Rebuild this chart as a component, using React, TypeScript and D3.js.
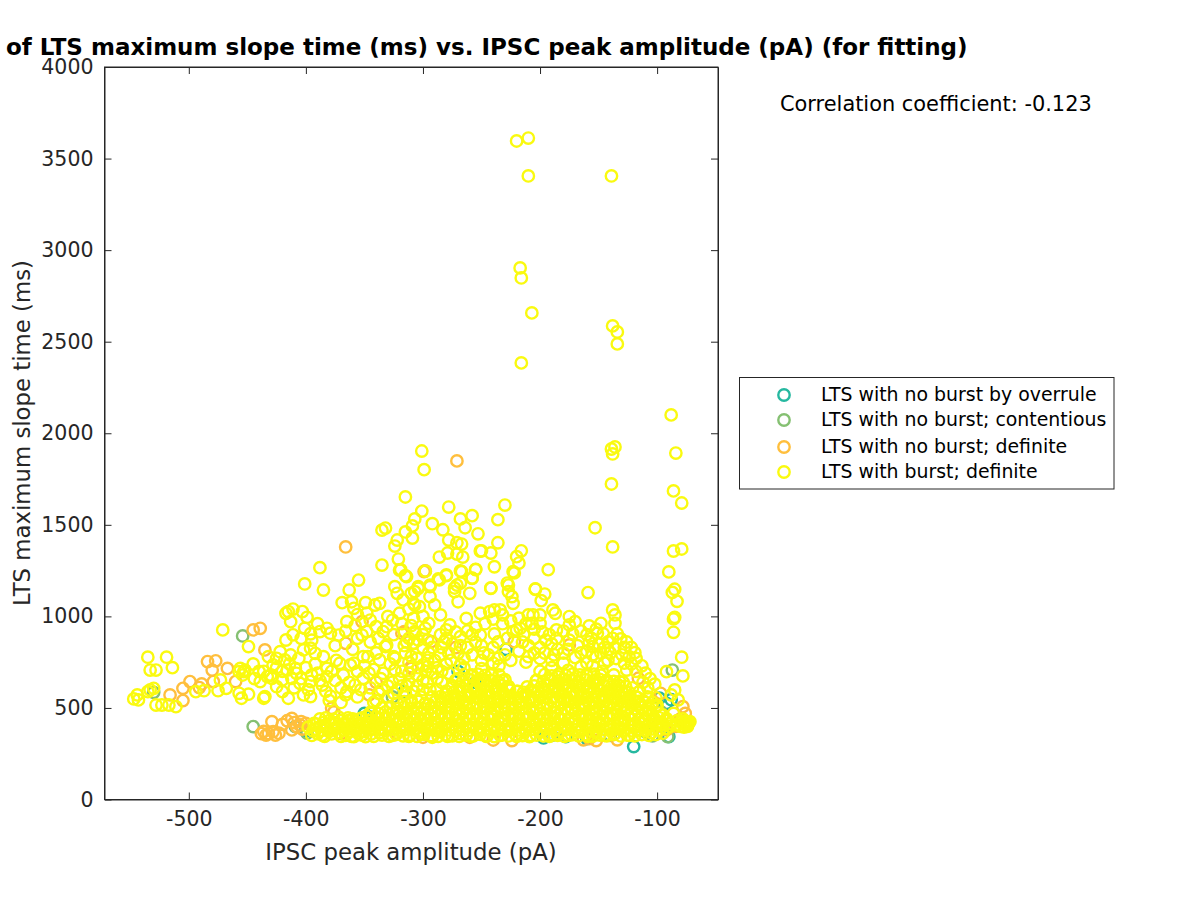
import React, { useRef, useEffect } from 'react';
import * as d3 from 'd3';

type Pt = [number, number];

const legendLabels = [
  'LTS with no burst by overrule',
  'LTS with no burst; contentious',
  'LTS with no burst; definite',
  'LTS with burst; definite'
];
const seriesColors = ['#26b8a0', '#85c072', '#ffbf3d', '#fafa0f'];
const xTicks = [-500, -400, -300, -200, -100];
const yTicks = [0, 500, 1000, 1500, 2000, 2500, 3000, 3500, 4000];
const xDomain: Pt = [-572, -48];
const yDomain: Pt = [0, 4000];

const overrule: Pt[] = [
  [-120, 289], [-229, 820], [-98, 553], [-92, 525], [-90, 343], [-316, 589], [-197, 336], [-178, 343],
  [-160, 333], [-88, 545], [-110, 370], [-350, 470], [-270, 700], [-255, 640], [-400, 375], [-345, 450]
];
const contentious: Pt[] = [
  [-454, 893], [-445, 398], [-409, 398], [-399, 362], [-87, 707], [-91, 343], [-104, 347], [-530, 585],
  [-97, 480], [-190, 350], [-326, 560], [-140, 350]
];
const noBurstDefinite: Pt[] = [
  [-271, 1849], [-366, 1379], [-299, 1245], [-516, 571], [-505, 607], [-505, 540], [-499, 644], [-491, 611],
  [-489, 631], [-484, 753], [-477, 757], [-480, 707], [-479, 644], [-467, 716], [-460, 644], [-445, 926],
  [-439, 935], [-435, 817], [-352, 971], [-366, 853], [-318, 908], [-310, 716], [-324, 707], [-346, 571],
  [-378, 498], [-322, 362], [-434, 352], [-429, 425], [-423, 362], [-412, 443], [-412, 380], [-405, 407],
  [-400, 416], [-408, 398], [-438, 360], [-428, 370], [-298, 1248], [-293, 862], [-310, 726], [-316, 917],
  [-308, 853], [-222, 862], [-175, 844], [-116, 662], [-97, 580], [-78, 507], [-240, 325], [-224, 322],
  [-134, 326], [-152, 322], [-163, 326], [-158, 332], [-76, 470], [-80, 440], [-84, 400], [-92, 380],
  [-100, 400], [-370, 360], [-300, 340], [-260, 340], [-360, 410], [-272, 830], [-340, 640], [-376, 478],
  [-432, 360], [-426, 352], [-420, 410], [-416, 430], [-410, 420], [-403, 385], [-404, 425], [-436, 372]
];

// far from the main cloud
const burstOutliers: Pt[] = [
  [-220, 3596], [-210, 3612], [-210, 3405], [-139, 3405], [-217, 2903], [-216, 2848], [-207, 2657], [-216, 2384],
  [-138, 2586], [-134, 2553], [-134, 2488], [-88, 2100], [-84, 1892], [-86, 1685], [-79, 1619], [-90, 1243],
  [-79, 1368], [-86, 1357], [-139, 1914], [-136, 1925], [-138, 1887], [-139, 1723], [-153, 1484], [-138, 1379],
  [-159, 1130], [-85, 1148], [-87, 1131], [-83, 1082], [-86, 986], [-85, 995], [-86, 913], [-79, 777],
  [-92, 698], [-78, 675], [-85, 598], [-82, 544], [-88, 571]
];
const burstUpper: Pt[] = [
  [-301, 1903], [-299, 1801], [-315, 1652], [-301, 1575], [-278, 1597], [-230, 1608], [-236, 1528], [-268, 1532],
  [-258, 1550], [-264, 1484], [-253, 1451], [-292, 1506], [-283, 1473], [-307, 1532], [-309, 1494], [-315, 1461],
  [-332, 1482], [-335, 1471], [-322, 1417], [-324, 1384], [-309, 1428], [-278, 1417], [-271, 1402], [-267, 1395],
  [-279, 1346], [-271, 1340], [-266, 1324], [-286, 1324], [-251, 1357], [-250, 1358], [-242, 1346], [-236, 1402],
  [-216, 1358], [-220, 1326], [-218, 1291], [-388, 1266], [-335, 1280], [-321, 1313], [-319, 1255], [-298, 1247],
  [-255, 1255], [-268, 1248], [-239, 1271], [-223, 1244], [-222, 1237], [-193, 1255], [-401, 1177], [-385, 1144],
  [-355, 1198], [-363, 1144], [-315, 1222], [-280, 1222], [-258, 1209], [-287, 1204], [-324, 1162], [-294, 1162],
  [-304, 1162], [-268, 1182], [-273, 1155], [-242, 1155], [-228, 1182], [-227, 1135], [-204, 1150], [-196, 1122]
];
const burstLeft: Pt[] = [
  [-535, 777], [-519, 777], [-533, 707], [-528, 707], [-514, 720], [-471, 926], [-449, 835], [-544, 571],
  [-547, 549], [-543, 544], [-535, 589], [-533, 598], [-530, 607], [-528, 516], [-523, 516], [-517, 516],
  [-511, 507], [-494, 589], [-487, 594], [-475, 594], [-468, 607], [-473, 653], [-457, 698], [-453, 698],
  [-454, 680], [-456, 716], [-452, 707], [-457, 580], [-455, 553], [-449, 575], [-435, 562], [-436, 553],
  [-439, 644], [-433, 671], [-429, 662], [-432, 780], [-422, 807], [-425, 771], [-418, 762], [-413, 789],
  [-406, 771], [-402, 817], [-396, 826], [-392, 798], [-385, 780], [-382, 716], [-382, 671], [-386, 625],
  [-379, 565], [-396, 562], [-402, 571], [-415, 553], [-420, 589], [-425, 616], [-420, 653], [-412, 662],
  [-408, 689], [-405, 634], [-396, 644], [-395, 680], [-409, 716], [-416, 707], [-430, 680], [-417, 871],
  [-411, 899], [-401, 935], [-415, 1026], [-417, 1017], [-411, 1040], [-413, 971], [-403, 1026], [-399, 995],
  [-388, 917], [-382, 935], [-379, 908], [-372, 898], [-356, 880], [-352, 898], [-348, 917], [-340, 944],
  [-331, 944], [-365, 971], [-369, 1075], [-361, 1080], [-359, 1044], [-349, 1075], [-337, 1071], [-341, 1062],
  [-348, 1017], [-371, 744], [-359, 744], [-362, 735], [-351, 780], [-347, 780], [-337, 762], [-332, 835],
  [-324, 771], [-334, 689], [-324, 707], [-312, 644], [-351, 662], [-358, 625], [-365, 589], [-366, 571],
  [-322, 1126], [-314, 1217], [-320, 1253], [-307, 1135], [-317, 1090], [-307, 1062], [-308, 990], [-320, 1017],
  [-334, 917], [-331, 844], [-325, 780], [-308, 853], [-307, 917], [-310, 780], [-440, 700], [-425, 720],
  [-445, 740], [-400, 720], [-390, 690], [-375, 650], [-370, 610], [-345, 610], [-338, 580], [-330, 620],
  [-320, 660], [-315, 580], [-305, 620], [-350, 730], [-342, 710], [-360, 820], [-375, 840], [-395, 870],
  [-345, 860], [-318, 960], [-300, 1000], [-312, 1040], [-330, 1000], [-444, 660], [-436, 700], [-428, 735],
  [-420, 700], [-414, 740], [-410, 610], [-404, 660], [-398, 600], [-392, 740], [-388, 650], [-383, 590],
  [-378, 700], [-374, 760], [-368, 680], [-363, 640], [-356, 700], [-353, 600], [-346, 690], [-340, 800],
  [-336, 660], [-328, 740], [-326, 640], [-322, 600], [-318, 700], [-316, 840], [-314, 620], [-312, 880],
  [-305, 680], [-302, 560], [-300, 900], [-298, 700], [-296, 760], [-294, 600], [-330, 560], [-342, 530],
  [-356, 560], [-370, 530], [-380, 540], [-404, 880], [-396, 905], [-390, 960], [-366, 920], [-358, 950],
  [-338, 880], [-325, 900], [-326, 980], [-310, 950], [-345, 980], [-356, 1010]
];
const burstRight: Pt[] = [
  [-138, 1035], [-136, 1008], [-136, 962], [-148, 962], [-158, 948], [-156, 880], [-138, 880], [-131, 877],
  [-119, 802], [-124, 780], [-126, 707], [-132, 644], [-151, 908], [-155, 835], [-142, 817], [-152, 780],
  [-175, 999], [-170, 971], [-175, 953], [-186, 926], [-189, 1035], [-187, 1017], [-200, 1008], [-206, 1008],
  [-210, 1008], [-200, 962], [-207, 962], [-220, 926], [-223, 917], [-217, 935], [-242, 1153], [-227, 1171],
  [-224, 1108], [-223, 1071], [-232, 1008], [-234, 1035], [-239, 1035], [-243, 1026], [-251, 1017], [-263, 989],
  [-277, 953], [-280, 926], [-239, 904], [-251, 898], [-268, 889], [-271, 1171], [-273, 1135], [-270, 1080],
  [-260, 1126], [-267, 1244], [-258, 1208], [-255, 1257], [-280, 1226], [-286, 1199], [-294, 1171], [-304, 1153],
  [-310, 1126], [-294, 1108], [-290, 1062], [-285, 1008], [-308, 1071], [-303, 1053], [-295, 962], [-298, 935],
  [-307, 908], [-204, 1148], [-199, 1086], [-215, 860], [-210, 840], [-205, 880], [-200, 830], [-195, 870],
  [-190, 850], [-185, 820], [-180, 800], [-175, 870], [-168, 840], [-160, 810], [-155, 790], [-150, 850],
  [-145, 830], [-140, 800], [-135, 770], [-130, 790], [-128, 745], [-210, 780], [-200, 770], [-190, 760],
  [-180, 745], [-170, 775], [-160, 745], [-145, 745], [-230, 790], [-225, 760], [-240, 830], [-248, 800],
  [-255, 860], [-262, 830], [-270, 800], [-275, 850], [-285, 790], [-290, 760], [-280, 740], [-265, 770],
  [-250, 760], [-240, 745], [-300, 830], [-295, 800], [-305, 770], [-300, 735], [-315, 800], [-312, 750],
  [-218, 810], [-212, 750], [-205, 800], [-196, 800], [-188, 790], [-176, 820], [-165, 800], [-158, 860],
  [-148, 800], [-142, 760], [-136, 830], [-128, 830], [-122, 740], [-118, 700], [-112, 640], [-108, 610],
  [-236, 770], [-244, 790], [-258, 790], [-268, 840], [-278, 800], [-284, 830], [-288, 720], [-292, 690]
];
const burstMidFill: Pt[] = [
  [-285, 900], [-280, 880], [-272, 915], [-262, 920], [-255, 940], [-247, 960], [-240, 985], [-232, 960],
  [-225, 975], [-218, 990], [-212, 960], [-205, 930], [-198, 915], [-192, 900], [-186, 880], [-180, 920],
  [-172, 905], [-165, 920], [-160, 900], [-152, 930], [-146, 905], [-142, 860], [-134, 905], [-126, 860],
  [-122, 830], [-118, 770], [-113, 730], [-110, 690], [-106, 660], [-102, 630], [-214, 900], [-228, 880],
  [-236, 860], [-250, 840], [-258, 900], [-282, 860], [-292, 830], [-296, 870], [-304, 870], [-314, 860],
  [-340, 540], [-335, 600], [-325, 580], [-318, 620], [-308, 590], [-300, 650], [-296, 640], [-288, 660],
  [-284, 700], [-310, 540], [-300, 600], [-312, 690], [-304, 720], [-296, 725], [-276, 760], [-268, 735]
];
// the solid band along the bottom of the cloud
const burstLowBand: Pt[] = [
  [-393, 416], [-388, 398], [-386, 352], [-380, 430], [-376, 385], [-372, 450], [-368, 410], [-362, 372],
  [-359, 343], [-354, 440], [-350, 395], [-349, 343], [-344, 470], [-340, 420], [-337, 365], [-332, 450],
  [-330, 395], [-326, 350], [-322, 480], [-320, 425], [-316, 380], [-312, 345], [-310, 455], [-306, 410],
  [-305, 500], [-302, 360], [-298, 440], [-296, 385], [-295, 520], [-292, 340], [-290, 480], [-288, 420],
  [-286, 370], [-284, 535], [-281, 450], [-279, 345], [-277, 505], [-275, 395], [-272, 550], [-270, 430],
  [-268, 360], [-266, 480], [-263, 520], [-261, 395], [-259, 345], [-257, 450], [-254, 560], [-252, 375],
  [-250, 420], [-248, 500], [-246, 345], [-243, 535], [-241, 455], [-239, 390], [-236, 580], [-234, 350],
  [-232, 430], [-230, 500], [-227, 375], [-225, 550], [-223, 465], [-220, 345], [-218, 410], [-216, 520],
  [-213, 380], [-211, 450], [-208, 350], [-206, 490], [-204, 410], [-201, 560], [-199, 370], [-197, 440],
  [-194, 520], [-192, 345], [-190, 400], [-187, 475], [-185, 360], [-183, 440], [-180, 545], [-178, 395],
  [-176, 350], [-173, 490], [-171, 425], [-169, 580], [-166, 370], [-164, 455], [-162, 520], [-159, 345],
  [-157, 405], [-154, 480], [-152, 365], [-150, 560], [-147, 435], [-145, 350], [-143, 510], [-140, 395],
  [-138, 465], [-136, 360], [-133, 540], [-131, 430], [-129, 375], [-126, 490], [-124, 350], [-122, 410],
  [-119, 455], [-117, 375], [-114, 520], [-112, 430], [-110, 395], [-107, 480], [-105, 365], [-102, 440],
  [-100, 515], [-97, 410], [-95, 460], [-92, 430], [-89, 400], [-86, 470], [-83, 430], [-80, 400],
  [-78, 440], [-76, 415], [-75, 425], [-77, 395], [-74, 410], [-79, 425], [-75, 420], [-73, 418],
  [-77, 412], [-76, 428], [-74, 400], [-72, 425], [-398, 395], [-390, 360], [-385, 420], [-382, 390],
  [-376, 420], [-372, 365], [-365, 385], [-360, 440], [-355, 360], [-352, 415], [-345, 380], [-342, 345],
  [-338, 440], [-394, 375], [-388, 440], [-370, 345], [-364, 430], [-358, 395], [-348, 455], [-346, 410]
];
// left end of the band, -395 to -340
const burstBandLeft: Pt[] = [
  [-395, 350], [-384, 345], [-378, 358], [-366, 350], [-361, 345], [-352, 352], [-344, 358],
  [-392, 385], [-386, 378], [-380, 372], [-374, 395], [-368, 380], [-362, 392], [-356, 378], [-350, 372], [-343, 392],
  [-391, 412], [-384, 405], [-378, 410], [-372, 402], [-366, 415], [-360, 408], [-354, 402], [-348, 415], [-342, 405],
  [-383, 445], [-376, 438], [-370, 432], [-364, 445], [-358, 430], [-352, 445], [-346, 432], [-340, 450],
  [-345, 475], [-338, 470], [-332, 478], [-326, 470],
  [-335, 500], [-328, 505], [-322, 495], [-316, 505], [-310, 495],
  [-322, 525], [-316, 535], [-310, 525], [-304, 535], [-298, 525]
];
const burstRow350: Pt[] = [
  [-335, 352], [-329, 345], [-323, 355], [-317, 348], [-311, 352], [-305, 345], [-299, 356], [-293, 349], [-287, 345], [-281, 354],
  [-275, 348], [-269, 345], [-263, 352], [-257, 347], [-251, 356], [-245, 349], [-239, 344], [-233, 352], [-227, 347], [-221, 355],
  [-215, 349], [-209, 344], [-203, 352], [-197, 347], [-191, 355], [-185, 350], [-179, 345], [-173, 353], [-167, 348], [-161, 355],
  [-155, 346], [-149, 352], [-143, 348], [-137, 355], [-131, 347], [-125, 352], [-119, 348], [-113, 355], [-107, 350], [-101, 355], [-95, 362]
];
const burstRow380: Pt[] = [
  [-338, 382], [-332, 375], [-326, 384], [-320, 378], [-314, 386], [-308, 380], [-302, 375], [-296, 383], [-290, 378], [-284, 386],
  [-278, 380], [-272, 375], [-266, 384], [-260, 378], [-254, 386], [-248, 380], [-242, 375], [-236, 384], [-230, 378], [-224, 386],
  [-218, 380], [-212, 375], [-206, 383], [-200, 378], [-194, 386], [-188, 380], [-182, 375], [-176, 384], [-170, 378], [-164, 386],
  [-158, 380], [-152, 375], [-146, 384], [-140, 378], [-134, 386], [-128, 380], [-122, 375], [-116, 384], [-110, 378], [-104, 386], [-98, 380], [-92, 388]
];
const burstRow410: Pt[] = [
  [-335, 412], [-329, 405], [-323, 414], [-317, 408], [-311, 416], [-305, 410], [-299, 405], [-293, 414], [-287, 408], [-281, 416],
  [-275, 410], [-269, 405], [-263, 414], [-257, 408], [-251, 416], [-245, 410], [-239, 405], [-233, 414], [-227, 408], [-221, 416],
  [-215, 410], [-209, 405], [-203, 414], [-197, 408], [-191, 416], [-185, 410], [-179, 405], [-173, 414], [-167, 408], [-161, 416],
  [-155, 410], [-149, 405], [-143, 414], [-137, 408], [-131, 416], [-125, 410], [-119, 405], [-113, 414], [-107, 408], [-101, 416], [-95, 410], [-89, 414], [-83, 408]
];
const burstRow440: Pt[] = [
  [-332, 442], [-326, 435], [-320, 444], [-314, 438], [-308, 446], [-302, 440], [-296, 435], [-290, 444], [-284, 438], [-278, 446],
  [-272, 440], [-266, 435], [-260, 444], [-254, 438], [-248, 446], [-242, 440], [-236, 435], [-230, 444], [-224, 438], [-218, 446],
  [-212, 440], [-206, 435], [-200, 444], [-194, 438], [-188, 446], [-182, 440], [-176, 435], [-170, 444], [-164, 438], [-158, 446],
  [-152, 440], [-146, 435], [-140, 444], [-134, 438], [-128, 446], [-122, 440], [-116, 435], [-110, 444], [-104, 438], [-98, 446], [-92, 442]
];
const burstRow470: Pt[] = [
  [-320, 472], [-314, 465], [-308, 474], [-302, 468], [-296, 476], [-290, 470], [-284, 465], [-278, 474], [-272, 468], [-266, 476],
  [-260, 470], [-254, 465], [-248, 474], [-242, 468], [-236, 476], [-230, 470], [-224, 465], [-218, 474], [-212, 468], [-206, 476],
  [-200, 470], [-194, 465], [-188, 474], [-182, 468], [-176, 476], [-170, 470], [-164, 465], [-158, 474], [-152, 468], [-146, 476],
  [-140, 470], [-134, 465], [-128, 474], [-122, 468], [-116, 476], [-110, 470], [-104, 465], [-98, 472]
];
const burstRow500: Pt[] = [
  [-305, 502], [-299, 495], [-293, 504], [-287, 498], [-281, 506], [-275, 500], [-269, 495], [-263, 504], [-257, 498], [-251, 506],
  [-245, 500], [-239, 495], [-233, 504], [-227, 498], [-221, 506], [-215, 500], [-209, 495], [-203, 504], [-197, 498], [-191, 506],
  [-185, 500], [-179, 495], [-173, 504], [-167, 498], [-161, 506], [-155, 500], [-149, 495], [-143, 504], [-137, 498], [-131, 506],
  [-125, 500], [-119, 495], [-113, 504], [-107, 498], [-101, 506]
];
const burstRow530: Pt[] = [
  [-290, 532], [-284, 525], [-278, 534], [-272, 528], [-266, 536], [-260, 530], [-254, 525], [-248, 534], [-242, 528], [-236, 536],
  [-230, 530], [-224, 525], [-218, 534], [-212, 528], [-206, 536], [-200, 530], [-194, 525], [-188, 534], [-182, 528], [-176, 536],
  [-170, 530], [-164, 525], [-158, 534], [-152, 528], [-146, 536], [-140, 530], [-134, 525], [-128, 534], [-122, 528], [-116, 536], [-110, 530]
];
const burstRow560: Pt[] = [
  [-285, 562], [-279, 555], [-273, 564], [-267, 558], [-261, 566], [-255, 560], [-249, 555], [-243, 564], [-237, 558], [-231, 566],
  [-225, 560], [-219, 555], [-213, 564], [-207, 558], [-201, 566], [-195, 560], [-189, 555], [-183, 564], [-177, 558], [-171, 566],
  [-165, 560], [-159, 555], [-153, 564], [-147, 558], [-141, 566], [-135, 560], [-129, 555], [-123, 564], [-117, 558]
];
const burstRow590: Pt[] = [
  [-280, 592], [-274, 585], [-268, 594], [-262, 588], [-256, 596], [-250, 590], [-244, 585], [-238, 594], [-232, 588], [-226, 596],
  [-220, 590], [-214, 585], [-208, 594], [-202, 588], [-196, 596], [-190, 590], [-184, 585], [-178, 594], [-172, 588], [-166, 596],
  [-160, 590], [-154, 585], [-148, 594], [-142, 588], [-136, 596], [-130, 590], [-124, 585]
];
const burstRow620: Pt[] = [
  [-275, 622], [-269, 615], [-263, 624], [-257, 618], [-251, 626], [-245, 620], [-239, 615], [-233, 624], [-227, 618],
  [-205, 620], [-199, 615], [-193, 624], [-187, 618], [-181, 626], [-175, 620], [-169, 615], [-163, 624], [-157, 618],
  [-151, 626], [-145, 620], [-139, 615], [-133, 624], [-127, 618]
];
const burstRow650: Pt[] = [
  [-272, 652], [-266, 645], [-260, 654], [-254, 648], [-248, 656], [-242, 650], [-236, 645], [-230, 654],
  [-203, 650], [-197, 645], [-191, 654], [-185, 648], [-179, 656], [-173, 650], [-167, 645], [-161, 654],
  [-155, 648], [-149, 656], [-143, 650], [-137, 645]
];
const burstRow680: Pt[] = [
  [-265, 682], [-259, 675], [-253, 684], [-247, 678], [-241, 686], [-235, 680],
  [-196, 682], [-190, 675], [-184, 684], [-178, 678], [-172, 686], [-166, 680], [-160, 675], [-154, 684], [-148, 678]
];
// the hump over the band, between -290 and -130
const burstHump: Pt[] = [
  [-292, 560], [-288, 600], [-284, 640], [-281, 575], [-278, 690], [-275, 610], [-273, 545], [-270, 660],
  [-268, 585], [-265, 720], [-263, 625], [-260, 560], [-258, 680], [-255, 600], [-252, 650], [-250, 715],
  [-247, 570], [-245, 625], [-242, 680], [-240, 540], [-237, 610], [-235, 730], [-232, 650], [-229, 570],
  [-227, 610], [-221, 545], [-219, 590], [-213, 570], [-211, 615], [-208, 545],
  [-205, 590], [-203, 650], [-200, 700], [-197, 600], [-195, 555], [-192, 650], [-190, 720], [-187, 600],
  [-184, 670], [-182, 560], [-179, 630], [-176, 705], [-174, 585], [-171, 660], [-168, 620], [-165, 725],
  [-163, 565], [-160, 680], [-158, 610], [-155, 730], [-153, 650], [-150, 600], [-147, 700], [-145, 555],
  [-142, 640], [-140, 590], [-137, 680], [-135, 615], [-132, 570], [-129, 640], [-127, 590], [-124, 545],
  [-121, 610], [-118, 560], [-115, 590], [-112, 540], [-108, 560], [-104, 530], [-101, 555]
];

const series: Pt[][] = [
  overrule,
  contentious,
  noBurstDefinite,
  [
    ...burstOutliers, ...burstUpper, ...burstLeft, ...burstRight, ...burstMidFill, ...burstLowBand, ...burstBandLeft,
    ...burstRow350, ...burstRow380, ...burstRow410, ...burstRow440, ...burstRow470, ...burstRow500,
    ...burstRow530, ...burstRow560, ...burstRow590, ...burstRow620, ...burstRow650, ...burstRow680, ...burstHump
  ]
];

const fontFamily = '"DejaVu Sans", sans-serif';
const axisColor = '#262626';

const margin = { top: 67, right: 482, bottom: 100.5, left: 104.5 };
const width = 1200;
const height = 900;

const App: React.FC = () => {
  const svgRef = useRef<SVGSVGElement>(null);

  useEffect(() => {
    const svg = d3.select(svgRef.current);
    svg.selectAll('*').remove();

    const innerWidth = width - margin.left - margin.right;
    const innerHeight = height - margin.top - margin.bottom;

    const xScale = d3.scaleLinear().domain(xDomain).range([0, innerWidth]);
    const yScale = d3.scaleLinear().domain(yDomain).range([innerHeight, 0]);

    const g = svg.append('g').attr('transform', `translate(${margin.left},${margin.top})`);

    // points, last series on top
    series.forEach((points, i) => {
      g.append('g')
        .selectAll('circle')
        .data(points)
        .enter()
        .append('circle')
        .attr('cx', d => xScale(d[0]))
        .attr('cy', d => yScale(d[1]))
        .attr('r', 5.7)
        .attr('fill', 'none')
        .attr('stroke', seriesColors[i])
        .attr('stroke-width', 2.4);
    });

    // axes, ticks inside on all four sides
    const axes = [
      { axis: d3.axisBottom(xScale).tickValues(xTicks).tickSizeInner(-7).tickSizeOuter(0).tickPadding(12), y: innerHeight, x: 0, labels: true },
      { axis: d3.axisTop(xScale).tickValues(xTicks).tickSizeInner(-7).tickSizeOuter(0), y: 0, x: 0, labels: false },
      { axis: d3.axisLeft(yScale).tickValues(yTicks).tickSizeInner(-7).tickSizeOuter(0).tickPadding(11), y: 0, x: 0, labels: true },
      { axis: d3.axisRight(yScale).tickValues(yTicks).tickSizeInner(-7).tickSizeOuter(0), y: 0, x: innerWidth, labels: false }
    ];
    axes.forEach(({ axis, x, y, labels }) => {
      const a = g.append('g').attr('transform', `translate(${x},${y})`).call(axis as any);
      a.selectAll('path,line').attr('stroke', axisColor).attr('stroke-width', 1);
      a.selectAll('text')
        .attr('fill', axisColor)
        .style('font-family', fontFamily)
        .style('font-size', '20.5px')
        .text(function (d) {
          return labels ? String(d) : '';
        });
    });

    svg.append('rect')
      .attr('x', margin.left)
      .attr('y', margin.top)
      .attr('width', innerWidth)
      .attr('height', innerHeight)
      .attr('fill', 'none')
      .attr('stroke', axisColor);

    // labels
    svg.append('text')
      .attr('x', 411)
      .attr('y', 860)
      .attr('text-anchor', 'middle')
      .attr('fill', axisColor)
      .style('font-family', fontFamily)
      .style('font-size', '22.8px')
      .text('IPSC peak amplitude (pA)');

    svg.append('text')
      .attr('transform', 'translate(30,433) rotate(-90)')
      .attr('text-anchor', 'middle')
      .attr('fill', axisColor)
      .style('font-family', fontFamily)
      .style('font-size', '22.8px')
      .text('LTS maximum slope time (ms)');

    svg.append('text')
      .attr('x', 6)
      .attr('y', 55)
      .attr('fill', '#000')
      .style('font-family', fontFamily)
      .style('font-size', '23px')
      .style('font-weight', 'bold')
      .text('of LTS maximum slope time (ms) vs. IPSC peak amplitude (pA) (for fitting)');

    svg.append('text')
      .attr('x', 780)
      .attr('y', 111)
      .attr('fill', '#000')
      .style('font-family', fontFamily)
      .style('font-size', '20.9px')
      .text('Correlation coefficient: -0.123');

    // legend
    svg.append('rect')
      .attr('x', 739.5)
      .attr('y', 377.5)
      .attr('width', 374.5)
      .attr('height', 111.5)
      .attr('fill', '#fff')
      .attr('stroke', axisColor);

    const legendY = [395, 420, 447, 472];
    legendLabels.forEach((label, i) => {
      svg.append('circle')
        .attr('cx', 784)
        .attr('cy', legendY[i])
        .attr('r', 5.7)
        .attr('fill', 'none')
        .attr('stroke', seriesColors[i])
        .attr('stroke-width', 2.4);
      svg.append('text')
        .attr('x', 821)
        .attr('y', legendY[i] + 6)
        .attr('fill', '#000')
        .style('font-family', fontFamily)
        .style('font-size', '18.9px')
        .text(label);
    });
  }, []);

  return (
    <svg
      ref={svgRef}
      width={width}
      height={height}
      style={{ position: 'absolute', left: 0, top: 0, background: '#fff' }}
    />
  );
};

export default App;
